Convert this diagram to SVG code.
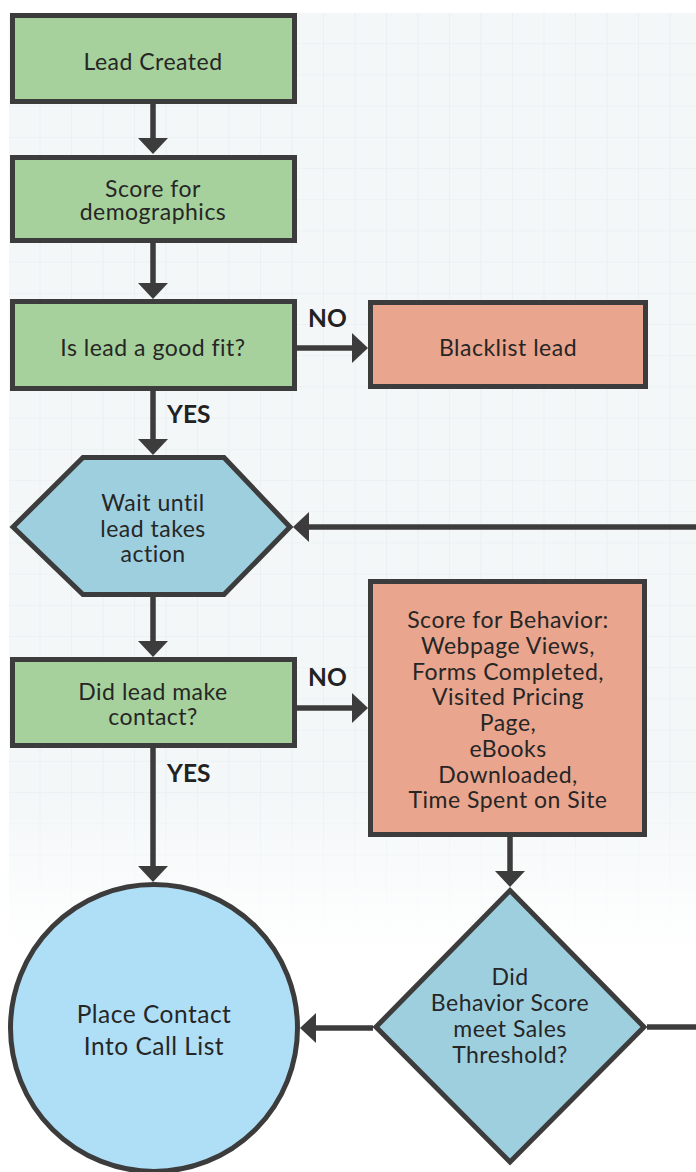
<svg xmlns="http://www.w3.org/2000/svg" width="696" height="1172" viewBox="0 0 696 1172">
<defs>
<pattern id="grid" x="9" y="13" width="31.5" height="31.2" patternUnits="userSpaceOnUse">
<rect width="31.5" height="31.2" fill="#f3f7f8"/>
<path d="M31.5,0 V31.2 M0,31.2 H31.5" stroke="#e4eef0" stroke-width="1.2" fill="none"/>
</pattern>
<linearGradient id="fade" x1="0" y1="0" x2="0" y2="1">
<stop offset="0" stop-color="#ffffff" stop-opacity="0"/>
<stop offset="1" stop-color="#ffffff" stop-opacity="1"/>
</linearGradient>
<marker id="arr" markerUnits="userSpaceOnUse" markerWidth="17" markerHeight="30" refX="0" refY="15" orient="auto">
<path d="M0,0 L16,15 L0,30 Z" fill="#3c3c3c"/>
</marker>
<style>
.node{stroke:#3c3c3c;stroke-width:5}
.green{fill:#a6d19c}
.salmon{fill:#e9a58d}
.hex{fill:#9ecfdf}
.circ{fill:#afdff6}
.t{font-family:Lato,"Liberation Sans",sans-serif;font-size:23px;letter-spacing:0.5px;fill:#262626;text-anchor:middle}
.lbl{font-family:Lato,"Liberation Sans",sans-serif;font-weight:bold;font-size:24.5px;fill:#222}
.conn{stroke:#3c3c3c;stroke-width:5.5;fill:none}
</style>
</defs>
<rect width="696" height="1172" fill="#ffffff"/>
<rect x="9" y="13" width="687" height="1159" fill="url(#grid)"/>
<rect x="0" y="790" width="696" height="160" fill="url(#fade)"/>
<rect x="0" y="950" width="696" height="222" fill="#ffffff"/>

<g id="connectors">
<path class="conn" d="M153,104 V138" marker-end="url(#arr)"/>
<path class="conn" d="M153,243 V283" marker-end="url(#arr)"/>
<path class="conn" d="M297,348 H352" marker-end="url(#arr)"/>
<path class="conn" d="M153,391 V439" marker-end="url(#arr)"/>
<path class="conn" d="M696,527 H309" marker-end="url(#arr)"/>
<path class="conn" d="M153,597 V641" marker-end="url(#arr)"/>
<path class="conn" d="M297,708 H352" marker-end="url(#arr)"/>
<path class="conn" d="M153,748 V866" marker-end="url(#arr)"/>
<path class="conn" d="M510,837 V871" marker-end="url(#arr)"/>
<path class="conn" d="M373,1028 H316" marker-end="url(#arr)"/>
<path class="conn" d="M647,1027 H696"/>
<text class="lbl" x="308" y="327">NO</text>
<text class="lbl" x="167" y="423">YES</text>
<text class="lbl" x="308" y="686">NO</text>
<text class="lbl" x="167" y="782">YES</text>
</g>

<g id="lead-created">
<rect class="node green" x="12.5" y="15.5" width="282" height="86"/>
<text class="t" x="153" y="70">Lead Created</text>
</g>
<g id="score-demographics">
<rect class="node green" x="12.5" y="157.5" width="282" height="83"/>
<text class="t" x="153" y="197">Score for</text>
<text class="t" x="153" y="220">demographics</text>
</g>
<g id="good-fit">
<rect class="node green" x="12.5" y="301.5" width="282" height="87"/>
<text class="t" x="153" y="356">Is lead a good fit?</text>
</g>
<g id="blacklist">
<rect class="node salmon" x="370.5" y="302.5" width="275" height="84"/>
<text class="t" x="508" y="356">Blacklist lead</text>
</g>
<g id="wait">
<polygon class="node hex" points="13,527 83,457.5 224,457.5 290,527 224,594.5 83,594.5"/>
<text class="t" x="153" y="511">Wait until</text>
<text class="t" x="153" y="537">lead takes</text>
<text class="t" x="153" y="562">action</text>
</g>
<g id="made-contact">
<rect class="node green" x="12.5" y="659.5" width="282" height="86"/>
<text class="t" x="153" y="700">Did lead make</text>
<text class="t" x="153" y="725">contact?</text>
</g>
<g id="score-behavior">
<rect class="node salmon" x="370.5" y="581.5" width="274" height="253"/>
<text class="t" x="508" y="628">Score for Behavior:</text>
<text class="t" x="508" y="654">Webpage Views,</text>
<text class="t" x="508" y="680">Forms Completed,</text>
<text class="t" x="508" y="705">Visited Pricing</text>
<text class="t" x="508" y="731">Page,</text>
<text class="t" x="508" y="757">eBooks</text>
<text class="t" x="508" y="783">Downloaded,</text>
<text class="t" x="508" y="808">Time Spent on Site</text>
</g>
<g id="threshold">
<polygon class="node hex" points="510,890.5 644,1027 510,1162 376,1027"/>
<text class="t" x="510" y="985">Did</text>
<text class="t" x="510" y="1011">Behavior Score</text>
<text class="t" x="510" y="1037">meet Sales</text>
<text class="t" x="510" y="1063">Threshold?</text>
</g>
<g id="call-list">
<circle class="node circ" cx="154" cy="1028" r="143.5"/>
<text class="t" x="154" y="1023" style="font-size:24.5px">Place Contact</text>
<text class="t" x="154" y="1055" style="font-size:24.5px">Into Call List</text>
</g>
</svg>
